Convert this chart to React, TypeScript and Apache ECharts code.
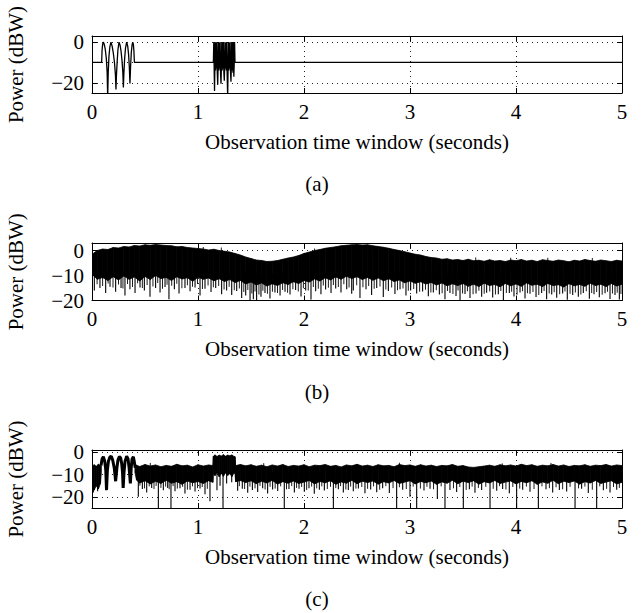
import React, { useEffect, useRef } from 'react';
import * as echarts from 'echarts';

// ---------- tick labels ----------
const X_TICKS = [0, 1, 2, 3, 4, 5];
const Y_TICKS = [-20, -10, 0];
const PANEL_LABELS = ['(a)', '(b)', '(c)'];
const X_NAME = 'Observation time window (seconds)';
const Y_NAME = 'Power (dBW)';

// ---------- panel (a): clean signal ----------
const timeA = [
  0, 0.091, 0.095, 0.1, 0.107, 0.115, 0.125, 0.135, 0.143, 0.148, 0.153, 0.16, 0.168, 0.179, 0.19, 0.2,
  0.212, 0.221, 0.226, 0.231, 0.238, 0.245, 0.255, 0.265, 0.274, 0.283, 0.291, 0.296, 0.301, 0.308, 0.316,
  0.327, 0.337, 0.345, 0.352, 0.358, 0.364, 0.371, 0.378, 0.384, 0.39, 0.395, 0.4,
  1.145, 1.149, 1.153, 1.156, 1.159, 1.162, 1.166, 1.17, 1.174, 1.178, 1.182, 1.186, 1.19, 1.193, 1.197,
  1.201, 1.205, 1.209, 1.213, 1.217, 1.221, 1.224, 1.228, 1.232, 1.236, 1.24, 1.244, 1.248, 1.252, 1.255,
  1.259, 1.263, 1.267, 1.271, 1.275, 1.28, 1.284, 1.287, 1.291, 1.295, 1.299, 1.303, 1.307, 1.311, 1.315,
  1.318, 1.322, 1.326, 1.33, 1.334, 1.338, 1.342, 1.345, 1.349, 5,
];
const powerA = [
  -10, -10, -4, -1.2, 0, -1, -3.5, -8, -15, -27, -15, -7, -2.5, 0, -2, -5,
  -10, -16, -23.3, -16, -9, -3.5, 0, -1.5, -4.5, -9, -15, -22.3, -15, -8, -3,
  0, -2, -6, -12, -20.3, -12, -5, -1.5, 0, -1, -4, -10,
  -10, 0, -15, -24, -12, 0, -14, -0.5, -13, 0, -15, -21, -11, 0, -14,
  -0.3, -13, 0, -16, -20.5, -12, 0, -14, -0.5, -13, 0, -15, -19, -11, 0,
  -13, -0.4, -14, 0, -16, -27, -12, 0, -14, -0.5, -13, 0, -15, -19.5, -11,
  0, -14, -0.3, -15, 0, -17, -10, 0, -10, -10,
];

// ---------- panel (b): noisy band (sampled every 0.05 s) ----------
const upperB = [
  -1.5, 0.0, 0.6, 0.4, 1.2, 1.0, 1.6, 1.4, 2.0, 1.8,
  2.3, 2.1, 2.4, 2.2, 2.0, 1.9, 1.5, 1.6, 1.2, 1.0,
  0.8, 0.6, 0.2, 0.5, 0.0, -0.3, -0.6, -1.2, -1.8, -2.6,
  -3.2, -3.8, -4.0, -4.4, -4.3, -4.0, -3.5, -3.0, -2.6, -2.0,
  -1.2, -0.6, 0.0, 0.4, 0.9, 1.2, 1.5, 1.9, 2.1, 2.3,
  2.4, 2.2, 2.3, 1.9, 1.6, 1.3, 0.9, 0.4, 0.0, -0.5,
  -1.0, -1.5, -1.8, -2.4, -2.8, -3.0, -3.5, -3.3, -3.8, -3.6,
  -4.0, -3.5, -4.1, -3.9, -4.3, -3.7, -4.2, -4.0, -4.4, -3.8,
  -4.1, -3.6, -4.2, -3.9, -4.4, -3.7, -4.0, -4.3, -3.8, -4.1,
  -4.5, -3.9, -4.2, -3.6, -4.0, -4.3, -3.8, -4.1, -4.4, -3.9,
  -4.2,
];
const lowerB = [
  -9.5, -11.5, -10.8, -12.0, -10.5, -11.8, -10.2, -11.5, -10.6, -12.2,
  -10.4, -11.6, -10.0, -11.2, -10.8, -12.0, -10.5, -11.4, -10.9, -12.3,
  -10.7, -11.5, -11.0, -12.1, -11.3, -12.4, -11.6, -12.8, -12.0, -13.4,
  -12.6, -13.8, -13.0, -14.2, -13.3, -14.0, -12.9, -13.6, -12.5, -13.2,
  -12.0, -12.6, -11.4, -12.2, -10.9, -11.8, -10.6, -11.5, -10.3, -11.2,
  -10.5, -11.6, -10.8, -11.9, -11.0, -12.1, -11.3, -12.4, -11.8, -12.9,
  -12.2, -13.1, -12.5, -13.4, -12.8, -13.8, -13.0, -14.1, -13.3, -14.0,
  -13.2, -14.3, -13.5, -14.4, -13.1, -14.0, -13.6, -14.5, -13.2, -14.1,
  -13.4, -14.3, -13.0, -13.9, -13.5, -14.4, -13.2, -14.0, -13.7, -14.6,
  -13.3, -14.1, -13.6, -14.3, -13.1, -14.0, -13.5, -14.4, -13.2, -14.2,
  -13.5,
];
const spikeTimeB = [
  0.022, 0.075, 0.129, 0.17, 0.223, 0.274, 0.311, 0.358, 0.406, 0.453, 0.494, 0.547, 0.6, 0.642, 0.689,
  0.726, 0.777, 0.821, 0.877, 0.925, 0.972, 1.019, 1.066, 1.123, 1.167, 1.223, 1.27, 1.318, 1.365, 1.412,
  1.45, 1.491, 1.522, 1.553, 1.594, 1.632, 1.679, 1.726, 1.774, 1.821, 1.868, 1.921, 1.972, 2.016, 2.066,
  2.11, 2.16, 2.204, 2.255, 2.299, 2.349, 2.403, 2.45, 2.465, 2.528, 2.585, 2.638, 2.686, 2.748, 2.796,
  2.858, 2.906, 2.962, 3.006, 3.063, 3.119, 3.173, 3.22, 3.277, 3.33, 3.377, 3.434, 3.472, 3.519, 3.566,
  3.623, 3.676, 3.723, 3.78, 3.833, 3.881, 3.937, 3.981, 4.038, 4.085, 4.132, 4.189, 4.242, 4.289, 4.337,
  4.384, 4.44, 4.484, 4.535, 4.588, 4.635, 4.692, 4.736, 4.786, 4.84, 4.887, 4.934, 4.975,
];
const spikeDepthB = [
  -16, -15, -17, -14.5, -16.5, -15, -18, -15.5, -17, -14.8, -16, -18.5, -15, -16.8, -14.6,
  -19.5, -15.5, -17.2, -15, -16.3, -14.8, -18, -15.3, -16.6, -15, -17.5, -16, -17.8, -16.2, -19,
  -18, -20, -19.5, -20, -18.5, -17, -19.2, -16.8, -18, -16.5, -17.6, -15.8, -18.4, -16, -19.6,
  -16.3, -17.5, -15.6, -17, -15.2, -16.8, -15.5, -17.3, -16, -19, -15.5, -17.8, -15, -18.6, -16.2,
  -17.4, -15.5, -18, -16, -17.2, -16.4, -18.3, -16.8, -17.6, -19.5, -17, -18.2, -20, -17.4, -19,
  -17.2, -18.5, -16.9, -18.8, -17.5, -19.8, -17, -18.4, -16.8, -19.2, -17.3, -18.6, -17, -19.5, -17.6,
  -18.9, -17.2, -19.7, -17.8, -18.5, -17, -19.3, -17.5, -18.7, -17.1, -19.4, -17.8, -19.6,
];
// shorter spikes between the long ones ([time, level])
const minorSpikesB = [
  [0.048, -13.5], [0.1, -14.2], [0.152, -13.2], [0.198, -14.8], [0.25, -13.6], [0.292, -15.2], [0.335, -13.4],
  [0.382, -14.6], [0.43, -13.1], [0.475, -15.0], [0.52, -13.8], [0.575, -14.4], [0.62, -13.0], [0.665, -15.3],
  [0.708, -13.7], [0.752, -14.1], [0.8, -13.3], [0.848, -15.1], [0.9, -13.9], [0.948, -14.5], [0.995, -13.4],
  [1.042, -15.4], [1.095, -14.0], [1.145, -14.7], [1.195, -14.2], [1.246, -15.6], [1.294, -14.5], [1.342, -15.9],
  [1.39, -15.2], [1.432, -16.6], [1.47, -15.8], [1.508, -17.2], [1.538, -16.4], [1.575, -17.6], [1.612, -16.1],
  [1.655, -17.3], [1.702, -16.5], [1.75, -17.0], [1.798, -15.8], [1.845, -16.9], [1.895, -15.5], [1.946, -16.4],
  [1.994, -15.1], [2.04, -16.0], [2.088, -14.6], [2.135, -15.3], [2.182, -14.0], [2.23, -14.9], [2.277, -13.8],
  [2.324, -14.6], [2.376, -13.5], [2.425, -14.8], [2.497, -13.9], [2.556, -14.7], [2.61, -14.2], [2.662, -15.3],
  [2.717, -14.4], [2.772, -15.6], [2.827, -14.8], [2.882, -15.9], [2.934, -15.2], [2.984, -16.1], [3.035, -15.4],
  [3.091, -16.5], [3.146, -15.7], [3.197, -16.8], [3.248, -15.9], [3.303, -17.1], [3.354, -16.2], [3.405, -17.4],
  [3.453, -16.0], [3.496, -17.2], [3.542, -16.3], [3.595, -17.5], [3.65, -16.1], [3.7, -17.3], [3.752, -16.4],
  [3.806, -17.6], [3.857, -16.2], [3.909, -17.0], [3.959, -16.5], [4.01, -17.7], [4.062, -16.3], [4.108, -17.1],
  [4.16, -16.6], [4.215, -17.8], [4.265, -16.2], [4.313, -17.2], [4.36, -16.7], [4.412, -17.5], [4.462, -16.4],
  [4.51, -17.3], [4.56, -16.8], [4.612, -17.6], [4.663, -16.3], [4.714, -17.0], [4.761, -16.6], [4.813, -17.7],
  [4.863, -16.5], [4.91, -17.2], [4.955, -16.9], [4.99, -17.4],
  [1.05, 1.4], [1.22, 1.2], [2.1, 0.8], [3.62, -2.8], [3.95, -2.9], [4.3, -2.9], [4.72, -3.0],
];

// ---------- panel (c): signal buried in noise ----------
const timeC = [
  0, 0.02, 0.04, 0.06, 0.08, 0.088,
  0.405, 0.42, 0.45, 0.5, 0.55, 0.6, 0.65, 0.7, 0.75, 0.8, 0.85, 0.9, 0.95, 1.0, 1.05, 1.1, 1.14,
  1.145, 1.16, 1.18, 1.2, 1.22, 1.24, 1.26, 1.28, 1.3, 1.32, 1.34, 1.349,
  1.355, 1.4,
  1.45, 1.5, 1.55, 1.6, 1.65, 1.7, 1.75, 1.8, 1.85, 1.9, 1.95, 2.0,
  2.05, 2.1, 2.15, 2.2, 2.25, 2.3, 2.35, 2.4, 2.45, 2.5, 2.55, 2.6,
  2.65, 2.7, 2.75, 2.8, 2.85, 2.9, 2.95, 3.0, 3.05, 3.1, 3.15, 3.2,
  3.25, 3.3, 3.35, 3.4, 3.45, 3.5, 3.55, 3.6, 3.65, 3.7, 3.75, 3.8,
  3.85, 3.9, 3.95, 4.0, 4.05, 4.1, 4.15, 4.2, 4.25, 4.3, 4.35, 4.4,
  4.45, 4.5, 4.55, 4.6, 4.65, 4.7, 4.75, 4.8, 4.85, 4.9, 4.95, 5.0,
];
const upperC = [
  -6.5, -5.6, -6.3, -5.4, -6.0, -6.0,
  -6.5, -5.8, -6.4, -5.5, -6.2, -5.7, -6.5, -5.9, -6.3, -5.4, -6.1, -5.8, -6.6, -5.6, -6.2, -5.7, -6.0,
  -1.8, -1.2, -1.9, -1.3, -1.7, -1.1, -1.8, -1.3, -1.6, -1.2, -1.9, -2.0,
  -6.0, -5.5,
  -6.1, -5.6, -6.3, -5.8, -6.5, -5.7, -6.2, -5.5, -6.4, -5.9, -6.2, -5.6,
  -6.5, -5.8, -6.0, -5.5, -6.3, -5.9, -6.6, -5.7, -6.1, -5.4, -6.2, -5.8,
  -6.4, -5.6, -6.1, -5.9, -6.5, -5.5, -6.0, -5.7, -6.3, -5.6, -6.2, -5.8,
  -6.4, -5.9, -6.1, -5.5, -6.3, -6.0, -6.6, -6.8, -6.5, -6.2, -5.8, -6.3,
  -5.6, -6.1, -5.7, -6.2, -5.4, -6.0, -5.6, -6.3, -5.8, -6.1, -5.5, -6.2,
  -5.7, -6.4, -5.9, -6.1, -5.6, -6.3, -5.8, -6.0, -5.5, -6.2, -5.7, -6.0,
];
const lowerC = [
  -15.5, -17, -15, -16.5, -14, -9,
  -9, -12.5, -13.8, -12.8, -14.2, -13.0, -14.0, -12.6, -13.9, -13.2, -14.4, -12.9, -13.7, -13.1, -14.0, -12.8, -13.5,
  -9.5, -10.5, -9.0, -11.0, -9.4, -10.8, -9.2, -10.4, -9.6, -10.9, -9.3, -9.5,
  -13.2, -12.7,
  -13.6, -12.8, -14.1, -13.0, -13.8, -12.6, -14.3, -13.2, -13.9, -12.9, -14.0, -13.4,
  -12.7, -14.2, -13.1, -13.7, -12.8, -14.4, -13.3, -13.9, -12.6, -14.1, -13.0, -13.6,
  -12.9, -14.3, -13.2, -13.8, -12.7, -14.0, -13.4, -12.8, -14.2, -13.1, -13.7, -12.9,
  -14.4, -13.3, -13.9, -12.6, -14.1, -13.0, -13.6, -12.8, -14.3, -13.2, -13.8, -12.7,
  -14.0, -13.4, -12.9, -14.2, -13.1, -13.7, -12.8, -14.4, -13.3, -13.9, -12.6, -14.1,
  -13.0, -13.6, -12.9, -14.3, -13.2, -13.8, -12.7, -14.0, -13.4, -12.8, -14.2, -13.5,
];
const lobeTimeC = [
  0.085, 0.095, 0.107, 0.12, 0.13, 0.137, 0.145, 0.155, 0.168, 0.182, 0.195, 0.21, 0.223, 0.235, 0.245,
  0.258, 0.27, 0.28, 0.288, 0.294, 0.302, 0.312, 0.327, 0.34, 0.35, 0.362, 0.37, 0.378, 0.39, 0.398, 0.408,
];
const lobePowerC = [
  -6, -3, -2, -4, -8, -17, -8, -4, -2.2, -1.8, -3.5, -7, -13, -7, -3.5,
  -2, -2.5, -5, -9, -16, -9, -4, -1.8, -3, -7, -14, -7, -3, -2, -4, -7,
];
const spikeTimeC = [
  0.013, 0.053, 0.437, 0.475, 0.516, 0.563, 0.626, 0.673, 0.714, 0.745, 0.783, 0.83, 0.877, 0.925, 0.972,
  1.019, 1.066, 1.113, 1.179, 1.208, 1.236, 1.27, 1.318, 1.374, 1.418, 1.469, 1.513, 1.563, 1.61, 1.657,
  1.704, 1.752, 1.814, 1.858, 1.909, 1.953, 2.003, 2.047, 2.097, 2.145, 2.192, 2.277, 2.324, 2.371, 2.418,
  2.465, 2.513, 2.575, 2.629, 2.686, 2.742, 2.805, 2.874, 2.931, 3.0, 3.063, 3.132, 3.189, 3.258, 3.33,
  3.377, 3.44, 3.503, 3.56, 3.613, 3.676, 3.755, 3.818, 3.874, 3.937, 4.006, 4.063, 4.132, 4.211, 4.283,
  4.346, 4.409, 4.478, 4.557, 4.619, 4.682, 4.761, 4.824, 4.887, 4.95,
];
const spikeDepthC = [
  -18, -17.5, -20, -16.5, -18, -16, -25, -17, -16, -25, -17.5, -16.2, -18.5, -16.8, -17.6,
  -16.3, -18.8, -22, -17, -15, -25, -14, -13.5, -17.3, -16.4, -18.2, -16.9, -17.8, -16.1, -18.5,
  -16.7, -17.4, -25, -16.5, -18, -16.4, -17.7, -16.2, -18.6, -16.8, -17.2, -25, -16.6, -18.1, -16.9,
  -17.5, -16.3, -18.4, -16.7, -17.9, -16.2, -18.3, -25, -16.8, -20, -25, -17.1, -16.4, -21, -25,
  -16.9, -17.8, -25, -16.6, -18.2, -16.9, -25, -17.3, -16.5, -18.4, -25, -16.8, -17.7, -25, -16.6,
  -18.1, -16.9, -17.6, -25, -16.4, -18.3, -25, -17, -18, -16.8,
];
const minorSpikesC = [
  [0.452, -15.0], [0.495, -16.2], [0.54, -15.3], [0.585, -16.5], [0.605, -15.1], [0.65, -16.0], [0.695, -15.4],
  [0.728, -16.6], [0.765, -15.2], [0.805, -16.3], [0.855, -15.5], [0.9, -16.8], [0.948, -15.3], [0.995, -16.1],
  [1.04, -15.6], [1.088, -16.4], [1.39, -15.2], [1.44, -16.5], [1.49, -15.4], [1.538, -16.2], [1.585, -15.1],
  [1.633, -16.7], [1.68, -15.5], [1.728, -16.3], [1.78, -15.3], [1.835, -16.6], [1.884, -15.2], [1.93, -16.0],
  [1.978, -15.6], [2.025, -16.9], [2.072, -15.4], [2.12, -16.2], [2.168, -15.3], [2.22, -16.5], [2.25, -15.5],
  [2.3, -16.1], [2.345, -15.2], [2.395, -16.7], [2.44, -15.4], [2.49, -16.3], [2.545, -15.6], [2.6, -16.4],
  [2.656, -15.3], [2.714, -16.8], [2.772, -15.2], [2.84, -16.1], [2.9, -15.7], [2.965, -16.5], [3.03, -15.4],
  [3.098, -16.3], [3.16, -15.5], [3.222, -16.6], [3.294, -15.3], [3.41, -16.2], [3.47, -15.6], [3.53, -16.9],
  [3.586, -15.4], [3.645, -16.0], [3.715, -15.5], [3.785, -16.4], [3.845, -15.2], [3.905, -16.7], [3.97, -15.6],
  [4.035, -16.3], [4.098, -15.4], [4.17, -16.5], [4.245, -15.3], [4.315, -16.1], [4.378, -15.7], [4.44, -16.6],
  [4.51, -15.5], [4.59, -16.2], [4.65, -15.4], [4.72, -16.8], [4.79, -15.3], [4.855, -16.4], [4.92, -15.6],
  [4.975, -16.0],
  [0.55, -4.8], [1.62, -4.9], [2.9, -4.7], [3.87, -5.0], [4.33, -4.8],
];

// ---------- layout ----------
const FONT = '"Liberation Serif", "Times New Roman", serif';
const FONT_SIZE = 21;
const GRID_LEFT = 92;
const GRID_WIDTH = 530;
const GRID_TOPS = [36, 243, 450];
const GRID_HEIGHTS = [57, 57.5, 58];
const Y_RANGES: [number, number][] = [[-25, 3], [-20, 3], [-25, 1]];
const PANEL_LABEL_Y = [184, 391.5, 599];
const SPIKE_TOP = -9;
const MAX_SAMPLE_GAP = 0.1;

const fmt = (v: number) => (v < 0 ? '\u2212' + Math.abs(v) : String(v));

function buildOption() {
  const textStyle = { color: '#000', fontFamily: FONT, fontSize: FONT_SIZE };
  const axisLine = { show: true, onZero: false, lineStyle: { color: '#000', width: 1 } };
  const tick = { show: true, inside: true, length: 5, lineStyle: { color: '#000', width: 1 } };
  const gridLine = { show: true, lineStyle: { color: '#222', width: 1, type: [1, 4] } };

  const grid: any[] = [];
  const xAxis: any[] = [];
  const yAxis: any[] = [];
  GRID_TOPS.forEach((top, i) => {
    grid.push({ left: GRID_LEFT, top, width: GRID_WIDTH, height: GRID_HEIGHTS[i], containLabel: false, outerBoundsMode: 'none' });
    const [ymin, ymax] = Y_RANGES[i];
    xAxis.push({
      type: 'value', gridIndex: i, position: 'bottom', min: X_TICKS[0], max: X_TICKS[X_TICKS.length - 1], interval: 1,
      axisLine, axisTick: tick,
      axisLabel: { ...textStyle, margin: 8, formatter: fmt, showMinLabel: true, showMaxLabel: true, hideOverlap: false },
      splitLine: gridLine,
      name: X_NAME, nameLocation: 'middle', nameGap: 38, nameTextStyle: textStyle,
    });
    xAxis.push({
      type: 'value', gridIndex: i, position: 'top', min: X_TICKS[0], max: X_TICKS[X_TICKS.length - 1], interval: 1,
      axisLine, axisTick: tick, axisLabel: { show: false }, splitLine: { show: false },
    });
    yAxis.push({
      type: 'value', gridIndex: i, position: 'left', min: ymin, max: ymax,
      axisLine, axisTick: { ...tick, customValues: Y_TICKS },
      axisLabel: {
        ...textStyle, lineHeight: 14, margin: 8, formatter: fmt, customValues: Y_TICKS,
        showMinLabel: true, showMaxLabel: true, hideOverlap: false,
      },
      splitLine: gridLine,
      name: Y_NAME, nameLocation: 'middle', nameGap: 66, nameRotate: 90, nameTextStyle: textStyle,
    });
    yAxis.push({
      type: 'value', gridIndex: i, position: 'right', min: ymin, max: ymax,
      axisLine, axisTick: { ...tick, customValues: Y_TICKS },
      axisLabel: { show: false, customValues: Y_TICKS }, splitLine: { show: false },
    });
  });

  const spikeSeries = (xi: number, data: number[][], width: number) => ({
    type: 'custom', xAxisIndex: xi, yAxisIndex: xi, clip: true,
    data,
    renderItem: (_p: any, api: any) => {
      const t = api.value(0);
      const a = api.coord([t, SPIKE_TOP]);
      const b = api.coord([t, api.value(1)]);
      return { type: 'line', shape: { x1: a[0], y1: a[1], x2: b[0], y2: b[1] }, style: { stroke: '#000', lineWidth: width } };
    },
  });

  // band between an upper and a lower envelope, one quad per sample interval
  const bandSeries = (xi: number, times: number[], up: number[], low: number[]) => {
    const n = Math.min(times.length, up.length, low.length);
    const data: number[][] = [];
    for (let k = 0; k < n - 1; k++) {
      if (times[k + 1] - times[k] > MAX_SAMPLE_GAP) continue;
      data.push([times[k], up[k], low[k], times[k + 1], up[k + 1], low[k + 1]]);
    }
    return {
      type: 'custom', xAxisIndex: xi, yAxisIndex: xi, clip: true,
      encode: { x: [0, 3], y: [1, 2, 4, 5] },
      data,
      renderItem: (_p: any, api: any) => {
        const pts = [
          api.coord([api.value(0), api.value(1)]),
          api.coord([api.value(3), api.value(4)]),
          api.coord([api.value(3), api.value(5)]),
          api.coord([api.value(0), api.value(2)]),
        ];
        return { type: 'polygon', shape: { points: pts }, style: { fill: '#000', stroke: '#000', lineWidth: 0.8 } };
      },
    };
  };

  const timesB = upperB.map((_, k) => Math.round(k * 5) / 100);
  const pairs = (times: number[], vals: number[]) => times.map((t, k) => [t, vals[k]]);

  const series: any[] = [
    {
      type: 'line', xAxisIndex: 0, yAxisIndex: 0, symbol: 'none', showSymbol: false, clip: true,
      data: pairs(timeA, powerA),
      lineStyle: { color: '#000', width: 1.3 },
    },
    bandSeries(2, timesB, upperB, lowerB),
    spikeSeries(2, pairs(spikeTimeB, spikeDepthB), 1.1),
    spikeSeries(2, minorSpikesB, 0.9),
    bandSeries(4, timeC, upperC, lowerC),
    {
      type: 'line', xAxisIndex: 4, yAxisIndex: 4, symbol: 'none', showSymbol: false, clip: true,
      data: pairs(lobeTimeC, lobePowerC),
      lineStyle: { color: '#000', width: 3 },
    },
    spikeSeries(4, pairs(spikeTimeC, spikeDepthC), 1.1),
    spikeSeries(4, minorSpikesC, 0.9),
  ];

  const graphic = PANEL_LABELS.map((label, i) => ({
    type: 'text', x: 317, y: PANEL_LABEL_Y[i],
    style: { text: label, fill: '#000', font: `${FONT_SIZE}px ${FONT}`, textAlign: 'center', textVerticalAlign: 'middle' },
  }));

  return {
    animation: false,
    backgroundColor: '#fff',
    textStyle: { fontFamily: FONT },
    grid, xAxis, yAxis, series, graphic,
  };
}

export default function App() {
  const ref = useRef<HTMLDivElement>(null);
  useEffect(() => {
    if (!ref.current) return;
    const chart = echarts.init(ref.current, null, { renderer: 'svg' });
    chart.setOption(buildOption() as any);
    return () => chart.dispose();
  }, []);
  return <div ref={ref} style={{ position: 'fixed', left: 0, top: 0, width: 643, height: 613, background: '#fff' }} />;
}
